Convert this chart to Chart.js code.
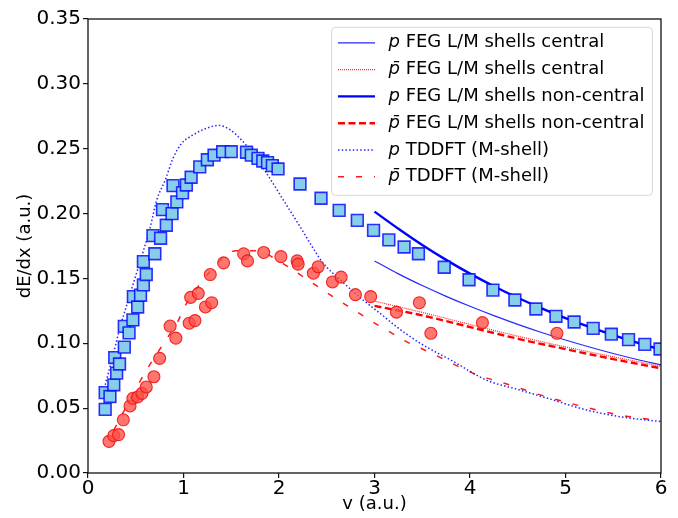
<!DOCTYPE html>
<html>
<head>
<meta charset="utf-8">
<script src="https://cdn.jsdelivr.net/npm/chart.js@4/dist/chart.umd.min.js"></script>
<style>
html,body{margin:0;padding:0;background:#fff;}
canvas{display:block;}
</style>
</head>
<body>
<canvas id="c" width="678" height="518"></canvas>
<script>
// ---- data ----
const xTicks = [0, 1, 2, 3, 4, 5, 6];
const yTicks = [0, 0.05, 0.10, 0.15, 0.20, 0.25, 0.30, 0.35];

// p experimental (squares)
const pExpX = [0.18,0.18,0.23,0.27,0.28,0.30,0.33,0.38,0.38,0.43,0.47,0.475,0.52,0.55,0.58,0.58,0.61,0.68,0.70,0.76,0.78,0.82,0.88,0.89,0.93,0.99,1.03,1.08,1.17,1.25,1.32,1.41,1.50,1.66,1.71,1.78,1.83,1.88,1.93,1.99,2.22,2.44,2.63,2.82,2.99,3.15,3.31,3.46,3.73,3.99,4.24,4.47,4.69,4.90,5.09,5.29,5.48,5.66,5.83,5.99];
const pExpY = [0.049,0.062,0.059,0.068,0.089,0.077,0.084,0.097,0.113,0.108,0.118,0.136,0.128,0.137,0.145,0.163,0.153,0.183,0.169,0.181,0.203,0.191,0.200,0.2215,0.209,0.216,0.222,0.228,0.236,0.2415,0.245,0.2477,0.2477,0.2473,0.245,0.2426,0.2405,0.2393,0.237,0.2344,0.2228,0.2118,0.2025,0.1948,0.187,0.1797,0.1742,0.169,0.1586,0.149,0.141,0.1334,0.1264,0.1208,0.1164,0.1115,0.107,0.1028,0.0992,0.0956];

// pbar experimental (circles)
const pbarExpX = [0.22,0.27,0.32,0.37,0.44,0.47,0.52,0.565,0.61,0.69,0.75,0.86,0.92,1.06,1.075,1.12,1.155,1.23,1.28,1.295,1.42,1.63,1.67,1.84,2.02,2.19,2.20,2.36,2.41,2.56,2.65,2.80,2.96,3.23,3.47,3.59,4.13,4.91];
const pbarExpY = [0.0244,0.0288,0.0296,0.041,0.0517,0.0576,0.0586,0.0614,0.0663,0.0742,0.0884,0.1133,0.104,0.1155,0.1354,0.1175,0.1385,0.128,0.153,0.1313,0.162,0.169,0.1635,0.170,0.1668,0.1635,0.161,0.154,0.159,0.1473,0.151,0.1375,0.136,0.124,0.1313,0.1077,0.1159,0.1077];

// FEG curves (v >= 3)
const fegX = [3.0,3.25,3.5,3.75,4.0,4.25,4.5,4.75,5.0,5.25,5.5,5.75,6.0];
const pFegCentral    = [0.1635,0.1535,0.1445,0.1362,0.1285,0.1213,0.1146,0.1083,0.1025,0.0971,0.0921,0.0875,0.0833];
const pFegNonCentral = [0.2015,0.1883,0.1758,0.1643,0.1537,0.144,0.1351,0.1269,0.1194,0.1126,0.1063,0.1005,0.0951];
const fegBarX = [3.0,3.5,4.0,4.5,5.0,5.5,6.0];
const pbarFegCentral    = [0.1325,0.1238,0.1145,0.1055,0.0972,0.0896,0.0823];
const pbarFegNonCentral = [0.1288,0.1215,0.1125,0.1035,0.0955,0.0878,0.0807];

// TDDFT (M-shell)
const pTddftX = [0.18,0.26,0.32,0.42,0.52,0.65,0.72,0.81,0.89,0.98,1.10,1.24,1.365,1.49,1.59,1.70,1.87,2.045,2.22,2.36,2.46,2.64,2.88,3.06,3.23,3.48,3.83,4.17,4.52,4.87,5.22,5.57,6.0];
const pTddftY = [0.068,0.09,0.108,0.133,0.157,0.189,0.2105,0.226,0.2426,0.254,0.2606,0.2657,0.268,0.2645,0.258,0.249,0.231,0.2105,0.19,0.173,0.162,0.149,0.1334,0.123,0.1128,0.100,0.0858,0.0717,0.064,0.0563,0.0486,0.0434,0.0396];
const pbarTddftX = [0.27,0.51,0.61,0.82,0.94,1.01,1.14,1.40,1.55,1.77,1.94,2.115,2.29,2.46,2.62,2.80,2.97,3.14,3.30,3.49,3.67,4.03,4.42,4.80,5.19,5.57,5.92,6.0];
const pbarTddftY = [0.033,0.066,0.079,0.103,0.1167,0.128,0.1424,0.1648,0.1714,0.1714,0.166,0.158,0.1495,0.141,0.1334,0.125,0.117,0.1097,0.1025,0.096,0.0897,0.077,0.0678,0.0588,0.0511,0.0447,0.0409,0.0400];

const legendSymbols = ['p', 'p\u0304', 'p', 'p\u0304', 'p', 'p\u0304'];
const legendTexts = [' FEG L/M shells central', ' FEG L/M shells central', ' FEG L/M shells non-central', ' FEG L/M shells non-central', ' TDDFT (M-shell)', ' TDDFT (M-shell)'];

const xLabel = 'v (a.u.)';
const yLabel = 'dE/dx (a.u.)';

// ---- build ----
const pts = (xs, ys) => xs.map((x, i) => ({x: x, y: ys[i]}));
const FONT = "'DejaVu Sans', sans-serif";

const lineDs = (data, color, width, dash, order) => ({
  data: data, showLine: true, borderColor: color, backgroundColor: color,
  borderWidth: width, borderDash: dash, pointRadius: 0, pointHoverRadius: 0,
  cubicInterpolationMode: 'monotone', fill: false, order: order, borderCapStyle: 'butt'
});

const datasets = [
  lineDs(pts(fegX, pFegCentral), 'rgba(0,0,255,0.85)', 1.2, [], 10),
  lineDs(pts(fegBarX, pbarFegCentral), 'rgba(255,0,0,0.85)', 1.2, [1, 1], 10),
  lineDs(pts(fegX, pFegNonCentral), '#0000ff', 2.4, [], 10),
  lineDs(pts(fegBarX, pbarFegNonCentral), '#ff0000', 2.4, [7, 3.5], 10),
  lineDs(pts(pTddftX, pTddftY), 'rgba(0,0,255,0.85)', 1.5, [1.5, 2.2], 10),
  lineDs(pts(pbarTddftX, pbarTddftY), 'rgba(255,0,0,0.9)', 1.5, [6, 12], 10),
  {
    data: pts(pExpX, pExpY), showLine: false, pointStyle: 'rect', pointRadius: 8.3,
    backgroundColor: '#87ceeb', borderColor: 'rgba(0,0,255,0.8)', pointBorderWidth: 1.6,
    borderWidth: 1.6, order: 1, clip: 0
  },
  {
    data: pts(pbarExpX, pbarExpY), showLine: false, pointStyle: 'circle', pointRadius: 6.0,
    backgroundColor: 'rgba(255,80,70,0.78)', borderColor: 'rgba(240,20,20,0.9)', pointBorderWidth: 1.1,
    borderWidth: 1.1, order: 2, clip: 0
  }
];

const framePlugin = {
  id: 'frame',
  afterDatasetsDraw(chart) {
    const {ctx, chartArea: a} = chart;
    ctx.save();
    ctx.strokeStyle = '#111';
    ctx.lineWidth = 1.3;
    ctx.strokeRect(a.left, a.top, a.right - a.left, a.bottom - a.top);
    ctx.restore();
  }
};

const legendPlugin = {
  id: 'mplLegend',
  afterDraw(chart) {
    const {ctx, chartArea: a} = chart;
    const w = 321, h = 168;
    const x0 = a.right - 8.5 - w, y0 = a.top + 8.3;
    ctx.save();
    ctx.beginPath();
    ctx.roundRect(x0, y0, w, h, 4);
    ctx.fillStyle = 'rgba(255,255,255,0.85)';
    ctx.fill();
    ctx.strokeStyle = '#d6d6d6';
    ctx.lineWidth = 1;
    ctx.stroke();
    for (let i = 0; i < legendTexts.length; i++) {
      const ds = chart.data.datasets[i];
      const y = y0 + 15.5 + i * 26.8;
      ctx.beginPath();
      ctx.setLineDash(ds.borderDash || []);
      ctx.lineCap = 'butt';
      ctx.strokeStyle = ds.borderColor;
      ctx.lineWidth = ds.borderWidth;
      ctx.moveTo(x0 + 6.5, y);
      ctx.lineTo(x0 + 43.5, y);
      ctx.stroke();
      ctx.setLineDash([]);
      ctx.fillStyle = '#000';
      ctx.textBaseline = 'middle';
      ctx.textAlign = 'left';
      ctx.font = "oblique 18px " + FONT;
      const tx = x0 + 57;
      ctx.fillText(legendSymbols[i], tx, y);
      const sw = ctx.measureText('p').width;
      ctx.font = "18px " + FONT;
      ctx.fillText(legendTexts[i], tx + sw, y);
    }
    ctx.restore();
  }
};

new Chart(document.getElementById('c'), {
  type: 'scatter',
  data: {datasets: datasets},
  options: {
    responsive: false,
    animation: false,
    events: [],
    layout: {padding: {left: 0, right: 17, top: 19, bottom: 0}},
    plugins: {legend: {display: false}, tooltip: {enabled: false}},
    scales: {
      x: {
        type: 'linear', min: 0, max: 6,
        afterBuildTicks: s => { s.ticks = xTicks.map(v => ({value: v})); },
        ticks: {font: {size: 20, family: FONT}, color: '#000', padding: -1, maxRotation: 0,
                callback: v => String(v)},
        grid: {drawOnChartArea: false, drawTicks: true, tickLength: 5, color: '#111', lineWidth: 1.2},
        border: {display: false},
        title: {display: true, text: xLabel, color: '#000', font: {size: 18, family: FONT}, padding: {top: 0, bottom: 3}},
        afterFit: s => { s.height = 45; }
      },
      y: {
        type: 'linear', min: 0, max: 0.35,
        afterBuildTicks: s => { s.ticks = yTicks.map(v => ({value: v})); },
        ticks: {font: {size: 20, family: FONT}, color: '#000', padding: 2,
                callback: v => Number(v).toFixed(2)},
        grid: {drawOnChartArea: false, drawTicks: true, tickLength: 5, color: '#111', lineWidth: 1.2},
        border: {display: false},
        title: {display: true, text: yLabel, color: '#000', font: {size: 18, family: FONT}, padding: {top: 15, bottom: 0}},
        afterFit: s => { s.width = 88; }
      }
    }
  },
  plugins: [framePlugin, legendPlugin]
});
</script>
</body>
</html>
